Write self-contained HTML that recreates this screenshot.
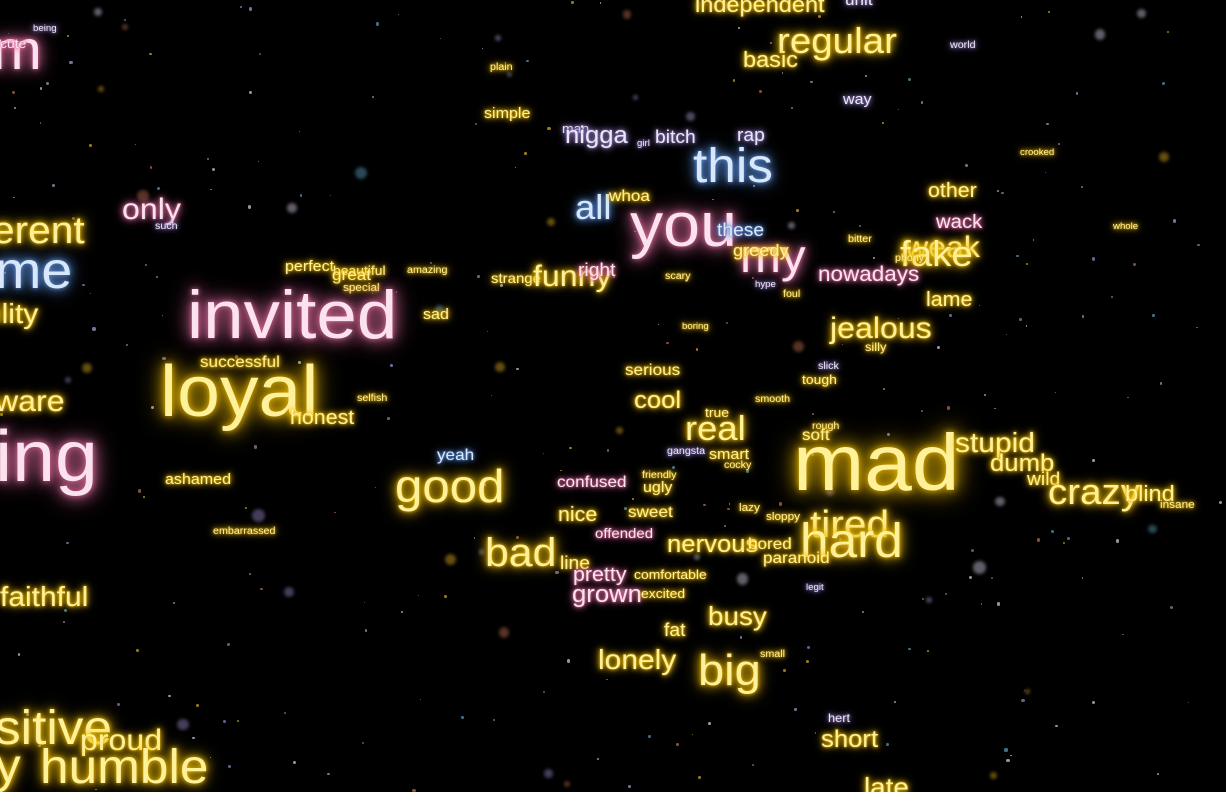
<!DOCTYPE html>
<html><head><meta charset="utf-8">
<style>
html,body{margin:0;padding:0;background:#000;}
#scene{position:relative;width:1226px;height:792px;overflow:hidden;background:#000;font-family:"Liberation Sans",sans-serif;}
.w{position:absolute;white-space:nowrap;line-height:1;letter-spacing:0;transform-origin:0 0;transform:scaleX(1.07);}
.dot{position:absolute;border-radius:50%;}
</style></head>
<body>
<div id="scene"></div>
<script>
const words=["m","being","cute","independent","unit","regular","basic","world","plain","way","simple","man","nigga","bitch","rap","this","crooked","other","wack","weak","fake","whole","nowadays","lame","jealous","silly","erent","only","such","me","ility","perfect","beautiful","great","special","amazing","sad","invited","successful","loyal","selfish","honest","ware","ing","ashamed","embarrassed","faithful","sitive","proud","y","humble","yeah","good","confused","strange","funny","right","all","you","my","these","greedy","whoa","scary","foul","hype","bitter","phony","boring","serious","cool","true","real","smart","gangsta","cocky","friendly","ugly","mad","stupid","dumb","wild","crazy","blind","insane","rough","soft","tired","hard","nice","sweet","lazy","sloppy","offended","bad","line","nervous","bored","paranoid","pretty","comfortable","grown","excited","legit","busy","fat","lonely","big","small","hert","short","late","smooth","tough","slick","girl"];
const xs=[-8,33,0,695,845,777,743,950,490,843,484,562,565,655,737,693,1020,928,936,905,900,1113,818,926,830,865,-8,122,155,-5,-5,285,333,332,343,407,423,187,200,160,357,290,-5,-5,165,213,0,-5,80,-5,40,437,395,557,491,533,578,575,630,740,717,733,609,665,783,755,848,895,682,625,634,705,685,709,667,724,642,643,793,955,990,1027,1048,1125,1160,812,802,810,800,558,628,739,766,595,485,560,667,748,763,573,634,572,641,806,708,664,598,698,760,828,821,864,755,802,818,637];
const ys=[68,31,48,12,6,53,67,49,71,104,118,133,144,143,141,182,155,197,229,258,266,229,281,306,339,351,243,220,230,288,323,271,275,281,292,274,319,337,368,415,402,424,412,480,484,535,606,744,751,782,783,461,501,488,282,287,276,219,246,271,236,256,202,280,298,287,243,262,329,376,409,417,440,459,455,469,479,492,489,452,472,485,504,501,509,430,441,537,557,521,518,512,521,537,566,569,553,550,564,581,579,603,598,590,624,636,669,685,658,722,748,795,403,384,370,146];
const sizes=[56,9,13,22,16,36,22,10,10,15,15,13,24,18,18,48,9,20,19,30,36,9,21,20,30,12,38,30,10,52,28,15,13,16,11,10,15,68,16,72,10,20,30,72,15,10,28,48,30,48,48,16,46,16,14,30,18,34,62,46,18,17,16,10,10,9,10,10,9,16,24,13,34,15,10,10,10,15,80,28,24,18,36,22,11,10,16,38,48,20,16,11,11,14,40,18,24,16,16,20,13,24,13,9,26,18,28,44,10,12,24,26,10,13,10,9];
const tones=["p","l","p","y","l","y","y","l","y","l","y","l","l","l","l","b","y","y","p","y","y","y","p","y","y","y","y","p","l","b","y","y","y","y","y","y","y","p","y","y","y","y","y","p","y","y","y","y","y","y","y","b","y","p","y","y","p","b","p","p","b","y","y","y","y","l","y","y","y","y","y","y","y","y","l","y","y","y","y","y","y","y","y","y","y","y","y","y","y","y","y","y","y","p","y","y","y","y","y","p","y","p","y","l","y","y","y","y","y","l","y","y","y","y","l","l"];
const fill={y:"#fff09a",p:"#fbe2ee",b:"#d8e8fa",l:"#ece6f6"};
const glow={y:"#e8b800",p:"#d86a9a",b:"#5c8ed8",l:"#8a78b8"};
const scene=document.getElementById('scene');
let seed=7;function rnd(){seed=(seed*16807)%2147483647;return seed/2147483647;}
const pc=["#e0b020","#b0a0d8","#9a88c8","#c07050","#60a0c0","#d8d0e8"];
for(let i=0;i<300;i++){
  const d=document.createElement('div');
  d.className='dot';
  
  
  const big=rnd()<0.15;const s=big?5+rnd()*8:1+rnd()*2.5;
  const x=rnd()*1226,y=rnd()*792;
  const c=pc[Math.floor(rnd()*pc.length)];
  d.style.cssText=`left:${x}px;top:${y}px;width:${s}px;height:${s}px;background:${c};opacity:${big?0.45:0.7};${big?'filter:blur(1.5px);':''}`;
  scene.appendChild(d);
}
for(let i=0;i<words.length;i++){
  const el=document.createElement('div');
  el.className='w';
  
  
  const t=tones[i]||'y',s=sizes[i];
  el.textContent=words[i];
  const g=glow[t];
  const b=Math.max(2,s/12);
  el.style.left=xs[i]+'px';
  el.style.top=(ys[i]-s*0.82)+'px';
  el.style.fontSize=s+'px';
  el.style.color=fill[t];
  el.style.textShadow=`0 0 ${b}px ${g},0 0 ${b*2.5}px ${g},0 0 ${b*4}px ${g}`;
  scene.appendChild(el);
}
</script>
</body></html>
